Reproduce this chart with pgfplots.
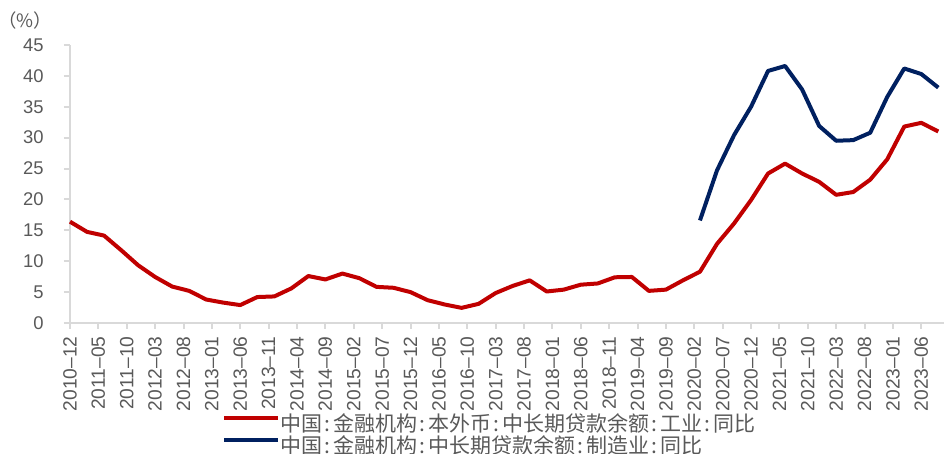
\documentclass[border=0pt]{standalone}
\usepackage{pgfplots}
\pgfplotsset{compat=1.18}
\usepackage{fontspec}
\setmainfont{Liberation Sans}
\newfontfamily\cjk{Noto Sans CJK SC}
\newcommand{\cc}{\makebox[5.5pt]{:}}
\definecolor{cred}{RGB}{192,0,0}
\definecolor{cnavy}{RGB}{0,32,96}
\definecolor{ctext}{RGB}{89,89,89}
\definecolor{caxis}{RGB}{217,217,217}
\begin{document}
\begin{tikzpicture}
\path[use as bounding box] (-35pt,-65.5pt) rectangle (437pt,161.5pt);
\begin{axis}[
  at={(0,0)}, anchor=south west,
  scale only axis, width=437pt, height=139pt,
  xmin=0, xmax=154, ymin=0, ymax=45,
  axis x line*=bottom, axis y line*=left,
  axis line style={caxis, line width=1pt, -},
  tick style={caxis, line width=1pt},
  tick align=outside,
  major tick length=3pt,
  xtick={0,5,...,150},
  xticklabels={2010–12,2011–05,2011–10,2012–03,2012–08,2013–01,2013–06,2013–11,2014–04,2014–09,2015–02,2015–07,2015–12,2016–05,2016–10,2017–03,2017–08,2018–01,2018–06,2018–11,2019–04,2019–09,2020–02,2020–07,2020–12,2021–05,2021–10,2022–03,2022–08,2023–01,2023–06},
  ytick={0,5,...,45},
  /pgf/number format/assume math mode=true,
  ticklabel style={text=ctext},
  xticklabel style={font=\fontsize{9.6pt}{10pt}\selectfont, rotate=90, anchor=east, inner sep=0pt, xshift=-3.5pt},
  yticklabel style={font=\fontsize{9.2pt}{10pt}\selectfont, anchor=east, inner sep=0pt, xshift=-10pt},
  legend style={draw=none, fill=none, at={(0.174,-0.3345)}, anchor=north west,
    inner sep=0pt, outer sep=0pt, row sep=0.25pt,
    font=\cjk\fontsize{10.5pt}{11pt}\selectfont, text=ctext,
    nodes={inner sep=0pt, text height=8pt, text depth=2.5pt},
    /tikz/every even column/.append style={column sep=3pt}},
  legend cell align=left,
  legend image code/.code={\draw[#1] (0pt,4pt) -- (27pt,4pt);},
  clip=false,
]
\addplot[cred, line width=2pt, line join=round] coordinates {
(0,16.4) (3,14.75) (6,14.15) (9,11.8) (12,9.35) (15,7.45) (18,5.9) (21,5.2)
(24,3.8) (27,3.3) (30,2.9) (33,4.2) (36,4.3) (39,5.6) (42,7.6) (45,7.05)
(48,8.0) (51,7.25) (54,5.85) (57,5.7) (60,5.0) (63,3.7) (66,3.0) (69,2.45)
(72,3.1) (75,4.85) (78,6.0) (81,6.9) (84,5.1) (87,5.4) (90,6.2) (93,6.4)
(96,7.4) (99,7.45) (102,5.2) (105,5.4) (108,6.9) (111,8.3) (114,12.8) (117,16.1)
(120,19.9) (123,24.2) (126,25.8) (129,24.2) (132,22.85) (135,20.75) (138,21.2) (141,23.2)
(144,26.5) (147,31.8) (150,32.4) (153,31.0)
};
\addlegendentry{中国\cc 金融机构\cc 本外币\cc 中长期贷款余额\cc 工业\cc 同比}
\addplot[cnavy, line width=2pt, line join=round] coordinates {
(111,16.6) (114,24.7) (117,30.4) (120,35.0) (123,40.8) (126,41.6) (129,37.8)
(132,31.9) (135,29.5) (138,29.6) (141,30.8) (144,36.6) (147,41.2) (150,40.3) (153,38.1)
};
\addlegendentry{中国\cc 金融机构\cc 中长期贷款余额\cc 制造业\cc 同比}
\node[font=\cjk\fontsize{9.2pt}{10pt}\selectfont, text=ctext] at (rel axis cs:0,1) [xshift=-22.5pt, yshift=12pt] {（\%）};
\end{axis}
\end{tikzpicture}
\end{document}
